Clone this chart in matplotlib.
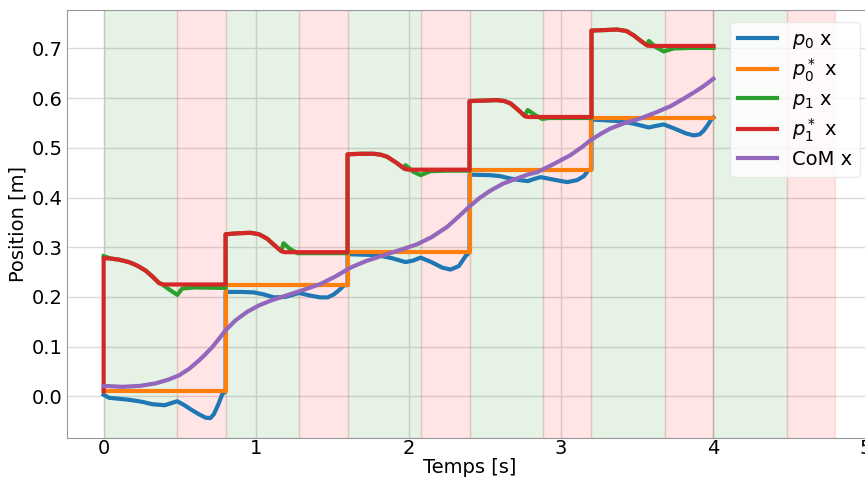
#!/usr/bin/env python3
"""
Foot / CoM x trajectories with support phase shading.
"""
import matplotlib
matplotlib.use("Agg")
import matplotlib.pyplot as plt

plt.rcParams.update({"font.size": 14, "axes.edgecolor": "0.6", "grid.color": "0.86",
                     "grid.linewidth": 1.0, "xtick.major.size": 0, "ytick.major.size": 0,
                     "xtick.major.pad": 1.0, "ytick.major.pad": 3.0})

# phase shading: double support (green) then single support (red)
ds_start = [0.0, 0.8, 1.6, 2.4, 3.2, 4.0]
ss_start = [0.48, 1.28, 2.08, 2.88, 3.68, 4.48]
ss_end = [0.8, 1.6, 2.4, 3.2, 4.0, 4.8]

# p0* x (reference, piecewise constant)
t_p0_ref = [0.0, 0.8, 1.6, 2.4, 3.2, 4.0]
p0_ref = [0.010, 0.224, 0.291, 0.456, 0.561, 0.561]

# p0 x (measured)
t_p0 = [0.0, 0.035, 0.10, 0.166, 0.25, 0.32, 0.40, 0.483, 0.53, 0.58, 0.63, 0.669, 0.70,
        0.723, 0.75, 0.778, 0.80, 0.80, 0.90, 0.986, 1.05, 1.117, 1.19, 1.24, 1.28, 1.35,
        1.42, 1.47, 1.51, 1.55, 1.576, 1.60, 1.60, 1.70, 1.795, 1.89, 1.98, 2.03, 2.079,
        2.15, 2.22, 2.275, 2.33, 2.374, 2.40, 2.40, 2.538, 2.60, 2.67, 2.73, 2.782, 2.82,
        2.866, 2.95, 3.04, 3.106, 3.15, 3.18, 3.20, 3.20, 3.368, 3.47, 3.576, 3.62, 3.674,
        3.75, 3.82, 3.87, 3.91, 3.937, 3.965, 3.985, 4.0]
p0 = [0.003, -0.003, -0.005, -0.007, -0.011, -0.016, -0.018, -0.010, -0.018, -0.028, -0.037,
      -0.043, -0.044, -0.036, -0.018, 0.004, 0.010, 0.210, 0.210, 0.209, 0.205, 0.199, 0.200,
      0.204, 0.208, 0.203, 0.199, 0.199, 0.205, 0.215, 0.223, 0.224, 0.286, 0.285, 0.284,
      0.278, 0.270, 0.273, 0.279, 0.270, 0.259, 0.255, 0.262, 0.282, 0.290, 0.446, 0.445,
      0.443, 0.438, 0.435, 0.433, 0.437, 0.441, 0.436, 0.431, 0.435, 0.443, 0.455, 0.456,
      0.557, 0.554, 0.549, 0.541, 0.544, 0.547, 0.538, 0.529, 0.525, 0.527, 0.535, 0.547,
      0.557, 0.561]

# p1* x (reference)
t_p1_ref = [0.0, 0.0, 0.05, 0.10, 0.166, 0.22, 0.275, 0.32, 0.363, 0.39, 0.80, 0.80, 0.88,
            0.964, 1.02, 1.073, 1.12, 1.172, 1.19, 1.60, 1.60, 1.69, 1.773, 1.82, 1.86, 1.92,
            1.98, 2.0, 2.40, 2.40, 2.49, 2.58, 2.63, 2.67, 2.72, 2.767, 2.79, 3.20, 3.20,
            3.29, 3.368, 3.43, 3.478, 3.52, 3.565, 3.59, 4.0]
p1_ref = [0.010, 0.278, 0.277, 0.275, 0.270, 0.263, 0.253, 0.241, 0.228, 0.225, 0.225,
          0.326, 0.328, 0.329, 0.326, 0.317, 0.304, 0.291, 0.290, 0.290, 0.487, 0.488, 0.488,
          0.486, 0.482, 0.470, 0.457, 0.456, 0.456, 0.594, 0.595, 0.596, 0.594, 0.589, 0.576,
          0.563, 0.562, 0.562, 0.736, 0.737, 0.738, 0.735, 0.726, 0.716, 0.706, 0.705, 0.705]

# p1 x (measured)
t_p1 = [0.0, 0.05, 0.10, 0.166, 0.22, 0.275, 0.32, 0.363, 0.385, 0.43, 0.483, 0.516, 0.60,
        0.80, 0.80, 0.88, 0.964, 1.02, 1.073, 1.12, 1.165, 1.18, 1.22, 1.27, 1.40, 1.60,
        1.60, 1.69, 1.773, 1.82, 1.86, 1.92, 1.97, 1.98, 2.03, 2.08, 2.144, 2.25, 2.40, 2.40,
        2.49, 2.58, 2.63, 2.67, 2.72, 2.76, 2.782, 2.83, 2.877, 2.92, 3.05, 3.20, 3.20, 3.29,
        3.368, 3.43, 3.478, 3.52, 3.565, 3.576, 3.62, 3.674, 3.74, 3.85, 4.0]
p1 = [0.282, 0.277, 0.275, 0.270, 0.263, 0.253, 0.241, 0.228, 0.225, 0.215, 0.204, 0.217,
      0.219, 0.218, 0.326, 0.328, 0.329, 0.326, 0.317, 0.304, 0.292, 0.308, 0.297, 0.288,
      0.288, 0.288, 0.487, 0.488, 0.488, 0.486, 0.482, 0.470, 0.458, 0.465, 0.452, 0.445,
      0.453, 0.454, 0.454, 0.594, 0.595, 0.596, 0.594, 0.589, 0.576, 0.564, 0.576, 0.566,
      0.558, 0.560, 0.560, 0.560, 0.736, 0.737, 0.738, 0.735, 0.726, 0.716, 0.706, 0.715,
      0.703, 0.694, 0.700, 0.701, 0.701]

# CoM x
t_com = [0.0, 0.122, 0.24, 0.341, 0.42, 0.494, 0.56, 0.625, 0.669, 0.713, 0.76, 0.80, 0.866,
         0.942, 1.02, 1.10, 1.20, 1.30, 1.423, 1.52, 1.62, 1.72, 1.84, 1.95, 2.057, 2.15,
         2.254, 2.33, 2.407, 2.47, 2.538, 2.62, 2.70, 2.78, 2.844, 2.95, 3.06, 3.14, 3.193,
         3.26, 3.325, 3.41, 3.52, 3.629, 3.72, 3.805, 3.88, 3.94, 4.0]
com = [0.021, 0.019, 0.021, 0.026, 0.033, 0.042, 0.055, 0.072, 0.085, 0.099, 0.117, 0.133,
       0.153, 0.170, 0.183, 0.193, 0.203, 0.213, 0.226, 0.241, 0.259, 0.272, 0.284, 0.295,
       0.306, 0.320, 0.341, 0.362, 0.384, 0.400, 0.414, 0.428, 0.437, 0.446, 0.451, 0.467,
       0.485, 0.502, 0.515, 0.528, 0.539, 0.549, 0.559, 0.572, 0.584, 0.599, 0.613, 0.625,
       0.639]


def main():
    fig = plt.figure(figsize=(8.65, 4.84), dpi=100)
    ax = fig.add_axes([0.0775, 0.095, 0.9306, 0.884])

    for a, b in zip(ds_start, ss_start):
        ax.axvspan(a, b, color="g", alpha=0.1)
    for a, b in zip(ss_start, ss_end):
        ax.axvspan(a, b, color="r", alpha=0.1)

    lw = 3.0
    ax.plot(t_p0, p0, color="#1f77b4", lw=lw, label=r"$p_0$ x")
    ax.plot(t_p0_ref, p0_ref, color="#ff7f0e", lw=lw, drawstyle="steps-post",
            label=r"$p_0^*$ x")
    ax.plot(t_p1, p1, color="#2ca02c", lw=lw, label=r"$p_1$ x")
    ax.plot(t_p1_ref, p1_ref, color="#d62728", lw=lw, label=r"$p_1^*$ x")
    ax.plot(t_com, com, color="#9467bd", lw=lw, label="CoM x")

    ax.set_xlim(-0.24, 5.04)
    ax.set_ylim(-0.084, 0.777)
    ax.set_xticks([0, 1, 2, 3, 4, 5])
    ax.set_yticks([0.0, 0.1, 0.2, 0.3, 0.4, 0.5, 0.6, 0.7])
    ax.set_xlabel("Temps [s]", labelpad=0)
    ax.set_ylabel("Position [m]", labelpad=3)
    ax.grid(True)
    ax.set_axisbelow(True)
    ax.spines["right"].set_visible(False)
    ax.legend(loc="upper right", framealpha=0.8, edgecolor="0.9", fancybox=True,
              labelspacing=0.3, borderaxespad=0.6)

    fig.savefig("out.png", dpi=100)
    plt.close(fig)


if __name__ == "__main__":
    main()
